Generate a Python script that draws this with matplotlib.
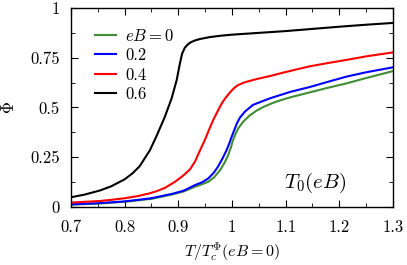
import numpy as np
import matplotlib
matplotlib.use('Agg')
import matplotlib.pyplot as plt
from matplotlib.ticker import MultipleLocator

plt.rcParams['mathtext.fontset'] = 'cm'
plt.rcParams['font.family'] = 'serif'
plt.rcParams['font.serif'] = ['cmr10']
plt.rcParams['axes.formatter.use_mathtext'] = True

# values
t_00 = [0.70, 0.75, 0.80, 0.85, 0.89, 0.91, 0.931, 0.945, 0.956, 0.967, 0.978, 0.986, 0.993, 0.998, 1.002, 1.007, 1.0116, 1.021, 1.033, 1.045, 1.058, 1.075, 1.09, 1.11, 1.145, 1.18, 1.213, 1.25, 1.30]
phi_00 = [0.012, 0.017, 0.026, 0.041, 0.064, 0.078, 0.102, 0.115, 0.127, 0.150, 0.186, 0.222, 0.261, 0.300, 0.337, 0.370, 0.395, 0.429, 0.460, 0.483, 0.502, 0.522, 0.536, 0.552, 0.576, 0.600, 0.621, 0.648, 0.683]

t_02 = [0.70, 0.75, 0.80, 0.85, 0.89, 0.91, 0.931, 0.945, 0.956, 0.966, 0.974, 0.982, 0.990, 0.995, 0.999, 1.004, 1.009, 1.015, 1.024, 1.039, 1.0706, 1.108, 1.145, 1.18, 1.213, 1.25, 1.30]
phi_02 = [0.013, 0.019, 0.028, 0.044, 0.067, 0.082, 0.110, 0.125, 0.144, 0.172, 0.203, 0.242, 0.286, 0.320, 0.350, 0.385, 0.420, 0.450, 0.479, 0.513, 0.546, 0.578, 0.603, 0.630, 0.655, 0.677, 0.702]

t_04 = [0.70, 0.725, 0.754, 0.775, 0.80, 0.825, 0.847, 0.86, 0.875, 0.894, 0.91, 0.922, 0.931, 0.94, 0.9495, 0.957, 0.965, 0.973, 0.981, 0.989, 0.996, 1.004, 1.0116, 1.024, 1.046, 1.0706, 1.095, 1.126, 1.145, 1.18, 1.213, 1.25, 1.30]
phi_04 = [0.022, 0.026, 0.030, 0.036, 0.044, 0.055, 0.069, 0.080, 0.096, 0.127, 0.160, 0.190, 0.228, 0.282, 0.337, 0.387, 0.437, 0.480, 0.521, 0.552, 0.575, 0.598, 0.613, 0.627, 0.643, 0.658, 0.675, 0.695, 0.707, 0.724, 0.739, 0.757, 0.777]

t_06 = [0.70, 0.725, 0.754, 0.775, 0.80, 0.815, 0.828, 0.847, 0.860, 0.875, 0.8875, 0.897, 0.903, 0.907, 0.912, 0.917, 0.922, 0.930, 0.940, 0.959, 0.98, 1.00, 1.05, 1.10, 1.15, 1.20, 1.25, 1.30]
phi_06 = [0.049, 0.062, 0.083, 0.104, 0.139, 0.170, 0.205, 0.285, 0.360, 0.454, 0.546, 0.638, 0.722, 0.770, 0.800, 0.815, 0.826, 0.836, 0.844, 0.854, 0.861, 0.866, 0.875, 0.884, 0.895, 0.906, 0.916, 0.925]

labels = ['$eB=0$', '0.2', '0.4', '0.6']
colors = ['#3f8d35', '#0000ff', '#ff0000', 'k']

fig = plt.figure(figsize=(4.07, 2.65), dpi=100)
ax = fig.add_axes([0.1744, 0.2189, 0.7912, 0.7509])

curves = [(t_00, phi_00), (t_02, phi_02), (t_04, phi_04), (t_06, phi_06)]
for (t, p), lab, c in zip(curves, labels, colors):
    ax.plot(t, p, color=c, lw=1.5, label=lab, solid_joinstyle='round')

ax.set_xlim(0.7, 1.3)
ax.set_ylim(0, 1)
ax.xaxis.set_minor_locator(MultipleLocator(0.05))
ax.yaxis.set_minor_locator(MultipleLocator(0.125))
ax.set_xticks([0.7, 0.8, 0.9, 1.0, 1.1, 1.2, 1.3])
ax.set_xticklabels(['0.7', '0.8', '0.9', '1', '1.1', '1.2', '1.3'])
ax.set_yticks([0, 0.25, 0.5, 0.75, 1])
ax.set_yticklabels(['0', '0.25', '0.5', '0.75', '1'])
ax.tick_params(which='both', direction='in', top=True, right=True, labelsize=12)
ax.tick_params(axis='x', pad=9)
ax.tick_params(axis='y', pad=8)
ax.tick_params(which='major', length=5)
ax.tick_params(which='minor', length=3)
for s in ax.spines.values():
    s.set_linewidth(1.0)

ax.set_xlabel(r'$T/T_c^{\Phi}(eB=0)$', fontsize=11.5)
ax.xaxis.set_label_coords(0.5, -0.17)
ax.set_ylabel(r'$\Phi$', fontsize=12)
ax.yaxis.set_label_coords(-0.166, 0.5)
ax.text(1.214, 0.12, r'$T_0(eB)$', fontsize=15, ha='right', va='center')

leg = ax.legend(loc='upper left', bbox_to_anchor=(0.054, 0.935), frameon=False,
                fontsize=12, handlelength=1.25, handletextpad=0.55,
                labelspacing=0.25, borderaxespad=0.0)

fig.savefig('out.png', dpi=100)
